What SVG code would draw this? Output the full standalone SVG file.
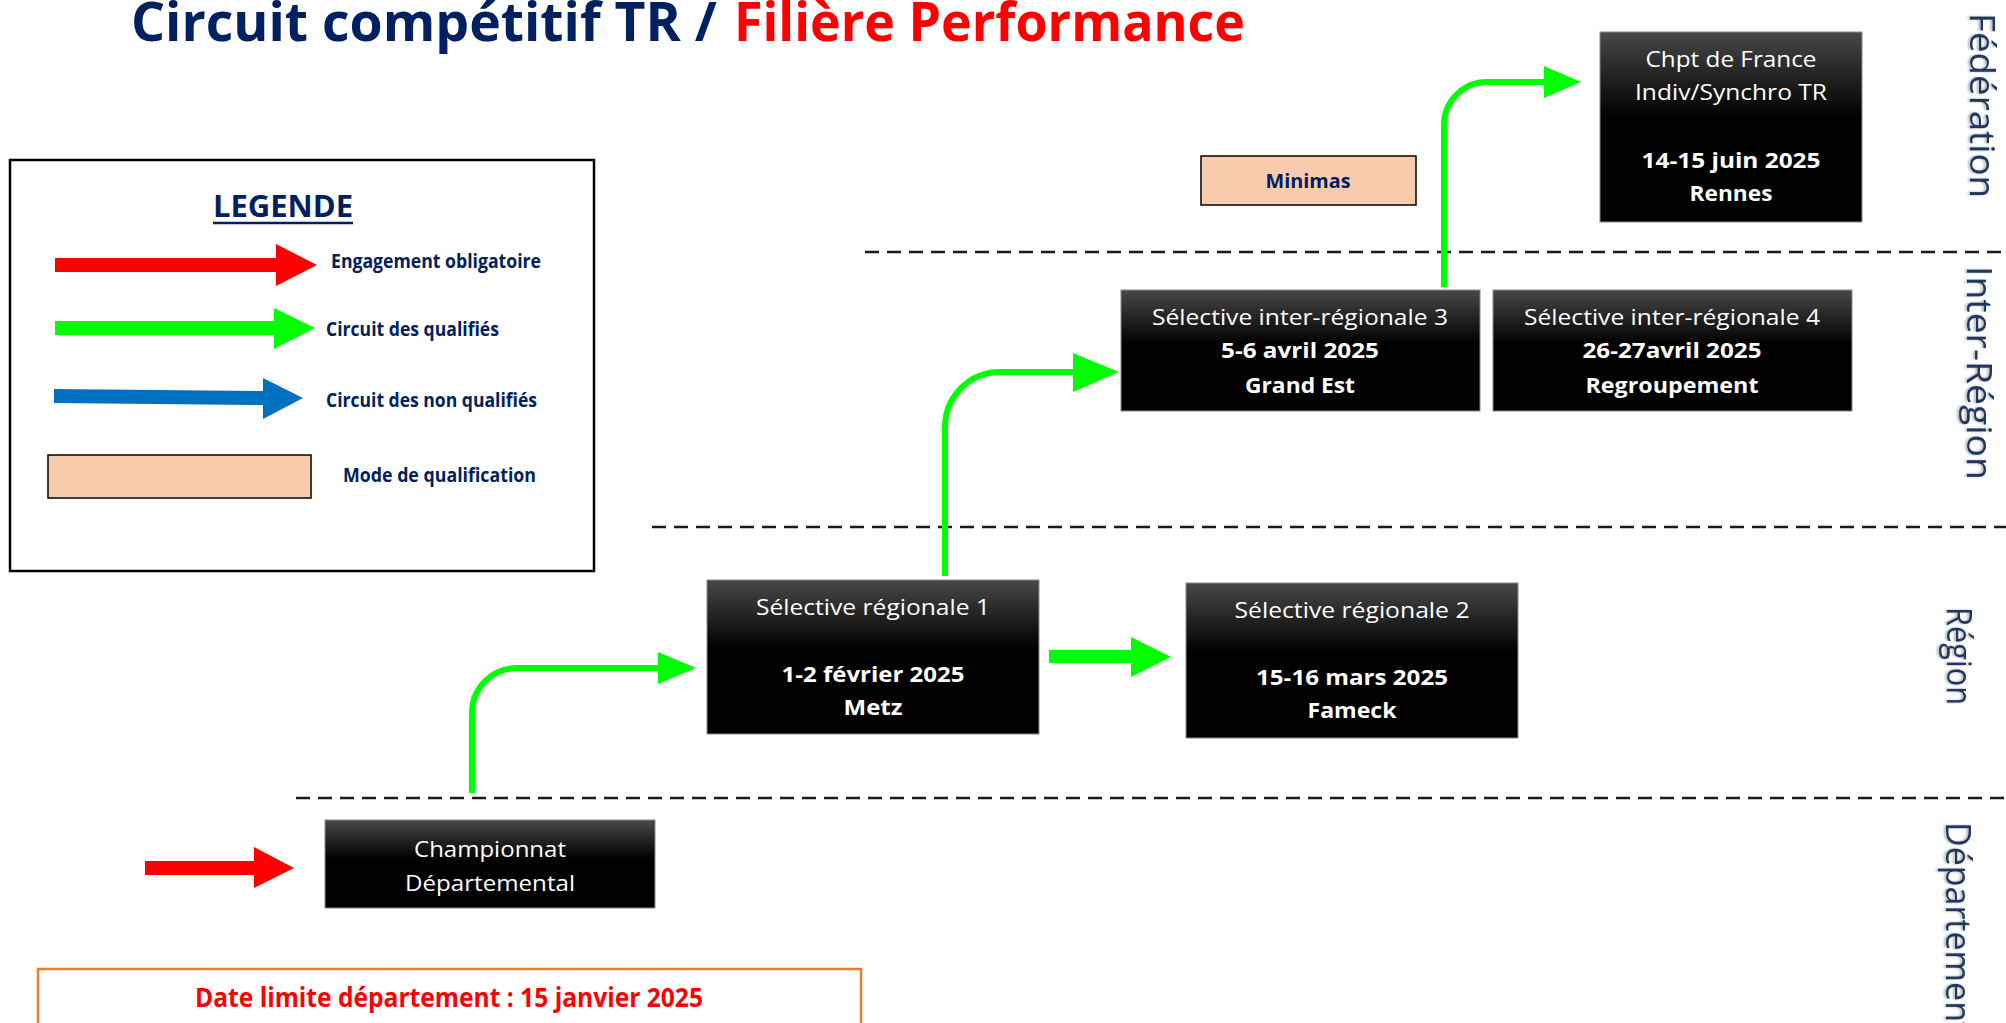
<svg xmlns="http://www.w3.org/2000/svg" width="2006" height="1023" viewBox="0 0 2006 1023">
<defs>
<linearGradient id="boxGrad" x1="0" y1="0" x2="0" y2="1">
<stop offset="0" stop-color="#484848"/>
<stop offset="0.45" stop-color="#000000"/>
<stop offset="1" stop-color="#000000"/>
</linearGradient>
<filter id="shadow" x="-20%" y="-20%" width="140%" height="140%">
<feDropShadow dx="0" dy="2" stdDeviation="1.2" flood-color="#808080" flood-opacity="0.6"/>
</filter>
</defs>
<style>
.box{fill:url(#boxGrad);stroke:#8a8a8a;stroke-width:1}
.wt{fill:#ffffff;font-family:"Open Sans","Liberation Sans",sans-serif;font-size:22px;text-anchor:middle}
.wb{fill:#ffffff;font-family:"Open Sans","Liberation Sans",sans-serif;font-size:22px;font-weight:bold;text-anchor:middle}
.leg{fill:#002060;font-family:"Open Sans","Liberation Sans",sans-serif;font-size:19px;font-weight:bold}
.side{fill:#1f3864;font-family:"Open Sans","Liberation Sans",sans-serif;font-size:34px}
.dash{stroke:#1a1a1a;stroke-width:2.5;stroke-dasharray:14 8;fill:none}
.gline{stroke:#00ff00;stroke-width:6;fill:none}
.gfill{fill:#00ff00}
.peach{fill:#f8cbad;stroke:#000;stroke-width:1.5}
</style>

<!-- Title -->
<g id="title">
<text x="131" y="41" font-family="'Open Sans','Liberation Sans',sans-serif" font-size="54" font-weight="bold" fill="#002060" textLength="586" lengthAdjust="spacingAndGlyphs">Circuit compétitif TR /</text>
<text x="734" y="41" font-family="'Open Sans','Liberation Sans',sans-serif" font-size="54" font-weight="bold" fill="#ff0000" textLength="511" lengthAdjust="spacingAndGlyphs">Filière Performance</text>
</g>

<!-- Legend -->
<g id="legend">
<rect x="10" y="160" width="584" height="411" fill="#ffffff" stroke="#000" stroke-width="2.5"/>
<text x="283" y="217" fill="#002060" font-family="'Open Sans','Liberation Sans',sans-serif" font-size="30" font-weight="bold" text-anchor="middle" textLength="140" lengthAdjust="spacingAndGlyphs">LEGENDE</text>
<line x1="213" y1="223" x2="353" y2="223" stroke="#002060" stroke-width="2.5"/>
<polygon points="55,258 276,258 276,244 317,265 276,286 276,272 55,272" fill="#ff0000"/>
<text class="leg" x="331" y="268" textLength="210" lengthAdjust="spacingAndGlyphs">Engagement obligatoire</text>
<polygon points="55,321 274,321 274,308 315,328 274,349 274,335 55,335" fill="#00ff00"/>
<text class="leg" x="326" y="336" textLength="173" lengthAdjust="spacingAndGlyphs">Circuit des qualifiés</text>
<polygon points="54,389 263,391 263,378 303,398 263,419 263,405 54,403" fill="#0070c0"/>
<text class="leg" x="326" y="407" textLength="211" lengthAdjust="spacingAndGlyphs">Circuit des non qualifiés</text>
<rect class="peach" x="48" y="455" width="263" height="43"/>
<text class="leg" x="343" y="482" textLength="193" lengthAdjust="spacingAndGlyphs">Mode de qualification</text>
</g>

<!-- Level separators and labels -->
<g id="levels">
<line class="dash" x1="865" y1="252" x2="2006" y2="252"/>
<line class="dash" x1="652" y1="527" x2="2006" y2="527"/>
<line class="dash" x1="296" y1="798" x2="2006" y2="798"/>
<text class="side" filter="url(#shadow)" transform="translate(1970,13) rotate(90)" textLength="185" lengthAdjust="spacingAndGlyphs">Fédération</text>
<text class="side" filter="url(#shadow)" transform="translate(1967,266) rotate(90)" textLength="214" lengthAdjust="spacingAndGlyphs">Inter-Région</text>
<text class="side" filter="url(#shadow)" transform="translate(1947,607) rotate(90)" textLength="98" lengthAdjust="spacingAndGlyphs">Région</text>
<text class="side" filter="url(#shadow)" transform="translate(1946,822) rotate(90)">Département</text>
</g>

<!-- Connectors -->
<g id="connectors">
<polygon points="145,861 254,861 254,847 294,868 254,888 254,875 145,875" fill="#ff0000"/>
<path class="gline" d="M472,793 V713 A45,45 0 0 1 517,668 H662"/>
<polygon class="gfill" points="658,652 696,668 658,684"/>
<polygon class="gfill" points="1049,650 1131,650 1131,637 1171,657 1131,677 1131,663 1049,663"/>
<path class="gline" d="M945,576 V427 A55,55 0 0 1 1000,372 H1076"/>
<polygon class="gfill" points="1073,353 1119,372 1073,392"/>
<path class="gline" d="M1444,287 V125 A43,43 0 0 1 1487,82 H1547"/>
<polygon class="gfill" points="1544,66 1581,82 1544,98"/>
</g>

<!-- Nodes -->
<g id="node-championnat">
<rect class="box" x="325" y="820" width="330" height="88"/>
<text class="wt" x="490" y="857" textLength="152" lengthAdjust="spacingAndGlyphs">Championnat</text>
<text class="wt" x="490" y="891" textLength="170" lengthAdjust="spacingAndGlyphs">Départemental</text>
</g>

<g id="node-sr1">
<rect class="box" x="707" y="580" width="332" height="154"/>
<text class="wt" x="873" y="615" textLength="234" lengthAdjust="spacingAndGlyphs">Sélective régionale 1</text>
<text class="wb" x="873" y="682" textLength="183" lengthAdjust="spacingAndGlyphs">1-2 février 2025</text>
<text class="wb" x="873" y="715" textLength="59" lengthAdjust="spacingAndGlyphs">Metz</text>
</g>

<g id="node-sr2">
<rect class="box" x="1186" y="583" width="332" height="155"/>
<text class="wt" x="1352" y="618" textLength="235" lengthAdjust="spacingAndGlyphs">Sélective régionale 2</text>
<text class="wb" x="1352" y="685" textLength="192" lengthAdjust="spacingAndGlyphs">15-16 mars 2025</text>
<text class="wb" x="1352" y="718" textLength="89" lengthAdjust="spacingAndGlyphs">Fameck</text>
</g>

<g id="node-sir3">
<rect class="box" x="1121" y="290" width="359" height="121"/>
<text class="wt" x="1300" y="325" textLength="296" lengthAdjust="spacingAndGlyphs">Sélective inter-régionale 3</text>
<text class="wb" x="1300" y="358" textLength="158" lengthAdjust="spacingAndGlyphs">5-6 avril 2025</text>
<text class="wb" x="1300" y="393" textLength="110" lengthAdjust="spacingAndGlyphs">Grand Est</text>
</g>

<g id="node-sir4">
<rect class="box" x="1493" y="290" width="359" height="121"/>
<text class="wt" x="1672" y="325" textLength="296" lengthAdjust="spacingAndGlyphs">Sélective inter-régionale 4</text>
<text class="wb" x="1672" y="358" textLength="179" lengthAdjust="spacingAndGlyphs">26-27avril 2025</text>
<text class="wb" x="1672" y="393" textLength="173" lengthAdjust="spacingAndGlyphs">Regroupement</text>
</g>

<g id="node-chpt">
<rect class="box" x="1600" y="32" width="262" height="190"/>
<text class="wt" x="1731" y="67" textLength="171" lengthAdjust="spacingAndGlyphs">Chpt de France</text>
<text class="wt" x="1731" y="100" textLength="192" lengthAdjust="spacingAndGlyphs">Indiv/Synchro TR</text>
<text class="wb" x="1731" y="168" textLength="179" lengthAdjust="spacingAndGlyphs">14-15 juin 2025</text>
<text class="wb" x="1731" y="201" textLength="83" lengthAdjust="spacingAndGlyphs">Rennes</text>
</g>

<g id="node-minimas">
<rect class="peach" x="1201" y="156" width="215" height="49"/>
<text class="leg" x="1308" y="188" text-anchor="middle" textLength="85" lengthAdjust="spacingAndGlyphs">Minimas</text>
</g>

<g id="node-date">
<rect x="38" y="969" width="823" height="80" fill="#ffffff" stroke="#ed7d31" stroke-width="2.5"/>
<text x="449" y="1007" fill="#ff0000" font-family="'Open Sans','Liberation Sans',sans-serif" font-size="26" font-weight="bold" text-anchor="middle" textLength="508" lengthAdjust="spacingAndGlyphs">Date limite département : 15 janvier 2025</text>
</g>
</svg>
